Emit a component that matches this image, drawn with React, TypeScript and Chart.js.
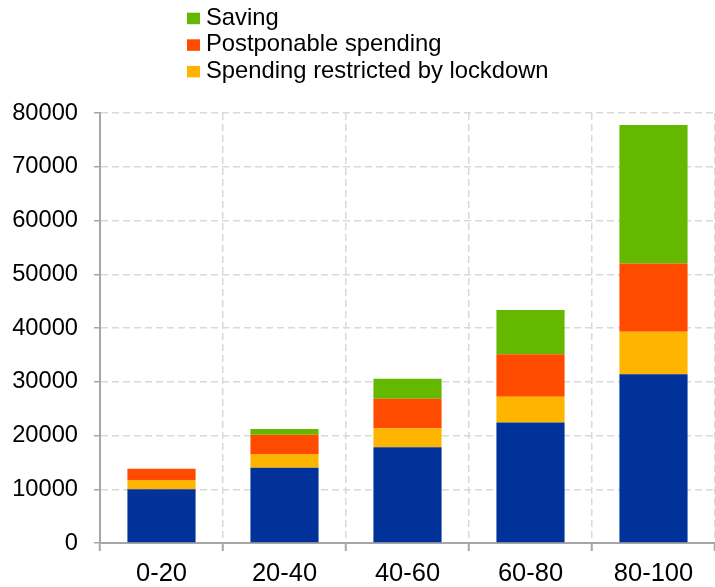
import React, { useEffect, useRef } from "react";
import { Chart, registerables } from "chart.js";

Chart.register(...registerables);

const categories = ["0-20", "20-40", "40-60", "60-80", "80-100"];
const baseSpending = [10000, 14000, 17800, 22400, 31400];
const restrictedSpending = [1700, 2550, 3550, 4800, 7900];
const postponableSpending = [2100, 3600, 5500, 7900, 12700];
const saving = [0, 1050, 3700, 8250, 25750];
const yTicks = [0, 10000, 20000, 30000, 40000, 50000, 60000, 70000, 80000];

const FONT = '"Liberation Sans", Arial, Helvetica, sans-serif';
const BLUE = "#003299";
const YELLOW = "#FFB400";
const RED = "#FF4B00";
const GREEN = "#65B800";
const AXIS = "#a6a6a6";
const GRID = "#d9d9d9";

// legend: drawn top-to-bottom in this dataset order
const legendOrder = [3, 2, 1];

const legendPlugin = {
  id: "stackLegend",
  afterDraw(chart: any) {
    const ctx = chart.ctx;
    ctx.save();
    ctx.font = `23.8px ${FONT}`;
    ctx.textBaseline = "alphabetic";
    ctx.textAlign = "left";
    const boxX = 187;
    const boxW = 13;
    const boxH = 11.5;
    const textX = 206;
    const firstTop = 12.7;
    const step = 26.6;
    legendOrder.forEach((dsIndex, i) => {
      const ds = chart.data.datasets[dsIndex];
      const top = firstTop + i * step;
      ctx.fillStyle = ds.backgroundColor as string;
      ctx.fillRect(boxX, top, boxW, boxH);
      ctx.fillStyle = "#000";
      ctx.fillText(ds.label, textX, top + boxH + 0.5);
    });
    ctx.restore();
  },
};

export default function App() {
  const ref = useRef<HTMLCanvasElement | null>(null);

  useEffect(() => {
    if (!ref.current) return;
    const chart = new Chart(ref.current, {
      type: "bar",
      data: {
        labels: categories,
        datasets: [
          { label: "Other spending", data: baseSpending, backgroundColor: BLUE },
          { label: "Spending restricted by lockdown", data: restrictedSpending, backgroundColor: YELLOW },
          { label: "Postponable spending", data: postponableSpending, backgroundColor: RED },
          { label: "Saving", data: saving, backgroundColor: GREEN },
        ],
      },
      options: {
        responsive: false,
        animation: false,
        devicePixelRatio: 1,
        layout: { padding: { top: 113, left: 0, right: -2, bottom: 0 } },
        datasets: {
          bar: { categoryPercentage: 1, barPercentage: 0.554, borderWidth: 0 },
        },
        plugins: {
          legend: { display: false },
          tooltip: { enabled: false },
          title: { display: false },
        },
        scales: {
          x: {
            stacked: true,
            offset: true,
            afterFit: (scale: any) => {
              scale.height = 44;
            },
            grid: {
              offset: true,
              color: GRID,
              lineWidth: 1.5,
              drawTicks: true,
              tickLength: 8,
              tickColor: AXIS,
              tickWidth: 2,
            },
            border: { display: true, color: AXIS, width: 2, dash: [7, 4] },
            ticks: {
              color: "#000",
              font: { family: FONT, size: 25.5 },
              padding: 8,
              maxRotation: 0,
            },
          },
          y: {
            stacked: true,
            min: 0,
            max: 80000,
            afterFit: (scale: any) => {
              scale.width = 100;
            },
            afterBuildTicks: (scale: any) => {
              scale.ticks = yTicks.map((v) => ({ value: v }));
            },
            grid: {
              color: GRID,
              lineWidth: 1.5,
              drawTicks: true,
              tickLength: 6,
              tickColor: AXIS,
              tickWidth: 1.5,
            },
            border: { display: true, color: AXIS, width: 2, dash: [7, 4] },
            ticks: {
              color: "#000",
              font: { family: FONT, size: 23.7 },
              padding: 16,
              callback: (v: any) => String(v),
            },
          },
        },
      },
      plugins: [legendPlugin],
    });
    return () => chart.destroy();
  }, []);

  return (
    <div style={{ position: "absolute", left: 0, top: 0, width: 715, height: 587, background: "#fff" }}>
      <canvas ref={ref} width={715} height={587} style={{ display: "block", width: 715, height: 587 }} />
    </div>
  );
}
